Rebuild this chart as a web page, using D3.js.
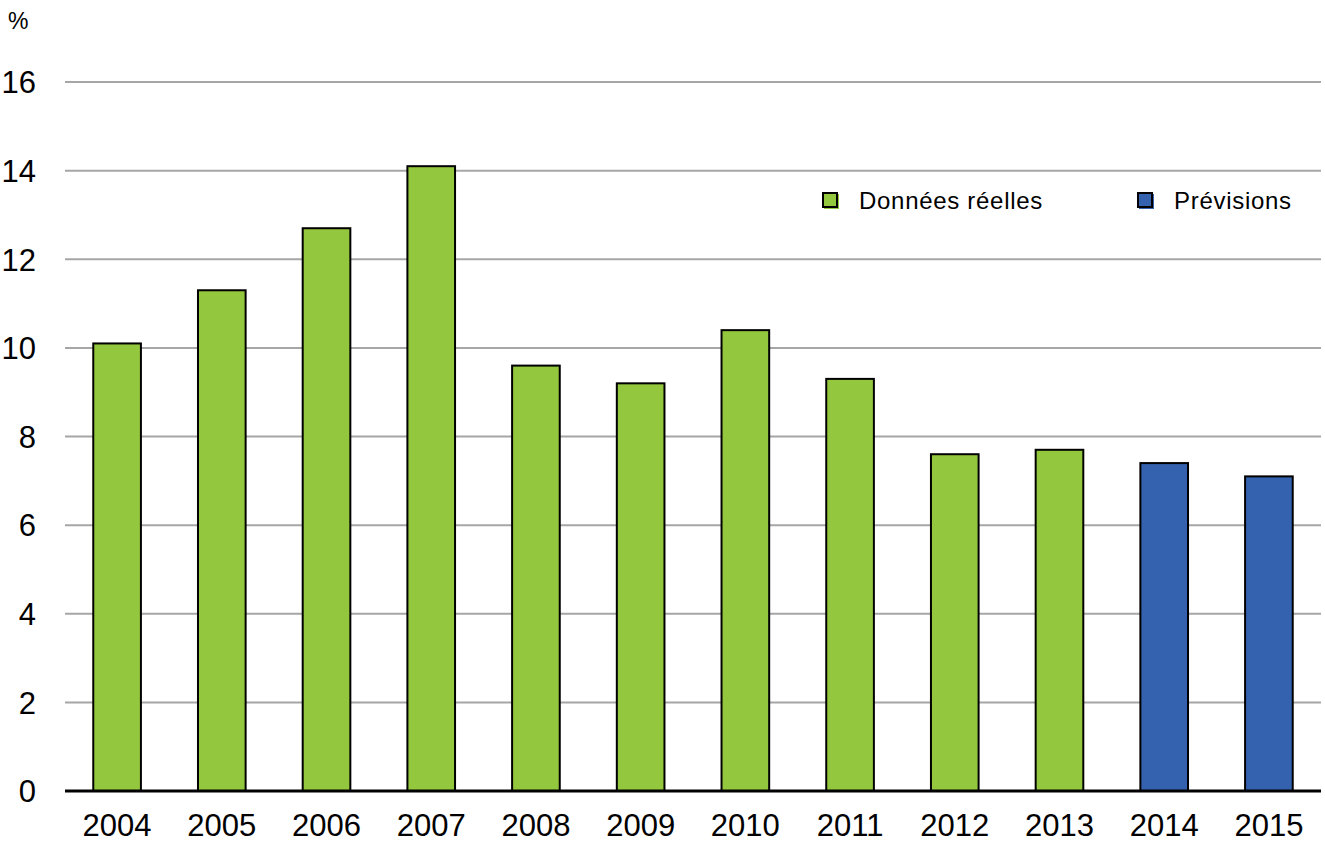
<!DOCTYPE html>
<html>
<head>
<meta charset="utf-8">
<script src="https://cdn.jsdelivr.net/npm/d3@7/dist/d3.min.js"></script>
<style>
  html, body { margin: 0; padding: 0; background: #fff; }
  svg { display: block; font-family: "Liberation Sans", Arial, sans-serif; }
</style>
</head>
<body>
<svg id="chart" width="1325" height="843"></svg>
<script>
// Annual values (%), actual data followed by forecasts
const years = ["2004", "2005", "2006", "2007", "2008", "2009", "2010", "2011", "2012", "2013", "2014", "2015"];
const values = [10.1, 11.3, 12.7, 14.1, 9.6, 9.2, 10.4, 9.3, 7.6, 7.7, 7.4, 7.1];
const kinds = ["reel", "reel", "reel", "reel", "reel", "reel", "reel", "reel", "reel", "reel", "prev", "prev"];
const yTicks = [0, 2, 4, 6, 8, 10, 12, 14, 16];
const legendItems = [
  { key: "reel", label: "Données réelles" },
  { key: "prev", label: "Prévisions" }
];

const colors = { reel: "#93C83E", prev: "#3462AE" };

const svg = d3.select("#chart");
const margin = { left: 65, right: 4, top: 82, bottom: 52 };
const W = 1325, H = 843;

const x = d3.scaleBand()
  .domain(years)
  .range([margin.left, W - margin.right])
  .paddingInner(0.545)
  .paddingOuter(0.27);

const y = d3.scaleLinear()
  .domain([0, 16])
  .range([H - margin.bottom, margin.top]);

// Horizontal gridlines
svg.append("g")
  .selectAll("line")
  .data(yTicks.filter(d => d > 0))
  .join("line")
  .attr("x1", margin.left)
  .attr("x2", W - margin.right)
  .attr("y1", d => y(d))
  .attr("y2", d => y(d))
  .attr("stroke", "#A6A6A6")
  .attr("stroke-width", 2);

// Y axis labels
const yAxis = d3.axisLeft(y).tickValues(yTicks).tickSize(0).tickPadding(0);
const gy = svg.append("g")
  .attr("transform", `translate(36,0)`)
  .call(yAxis);
gy.select(".domain").remove();
gy.selectAll("text")
  .attr("font-size", 31)
  .attr("fill", "#000")
  .attr("font-family", "'Liberation Sans', Arial, sans-serif")
  .attr("text-anchor", "end")
  .attr("dy", "0.35em");

// Unit label
svg.append("text")
  .attr("x", 8)
  .attr("y", 29)
  .attr("font-size", 23)
  .attr("fill", "#000")
  .text("%");

// Bars
svg.append("g")
  .selectAll("rect")
  .data(years.map((yr, i) => ({ yr, v: values[i], k: kinds[i] })))
  .join("rect")
  .attr("x", d => x(d.yr))
  .attr("width", x.bandwidth())
  .attr("y", d => y(d.v))
  .attr("height", d => y(0) - y(d.v))
  .attr("fill", d => colors[d.k])
  .attr("stroke", "#000")
  .attr("stroke-width", 2);

// X axis
const xAxis = d3.axisBottom(x).tickSize(0).tickPadding(0);
const gx = svg.append("g")
  .attr("transform", `translate(0,${y(0)})`)
  .call(xAxis);
gx.select(".domain").remove();
gx.selectAll("text")
  .attr("font-size", 31)
  .attr("fill", "#000")
  .attr("font-family", "'Liberation Sans', Arial, sans-serif")
  .attr("y", 45)
  .attr("dy", 0);

// Zero baseline
svg.append("line")
  .attr("x1", margin.left)
  .attr("x2", W - margin.right)
  .attr("y1", y(0))
  .attr("y2", y(0))
  .attr("stroke", "#000")
  .attr("stroke-width", 3);

// Legend
const legendPos = [823, 1138];
const lg = svg.append("g")
  .selectAll("g")
  .data(legendItems)
  .join("g")
  .attr("transform", (d, i) => `translate(${legendPos[i]},193)`);
lg.append("rect")
  .attr("x", 1).attr("y", 1)
  .attr("width", 15).attr("height", 15)
  .attr("fill", d => colors[d.key]);
lg.append("rect")
  .attr("width", 14).attr("height", 14)
  .attr("fill", d => colors[d.key])
  .attr("stroke", "#000")
  .attr("stroke-width", 2);
lg.append("text")
  .attr("x", 36)
  .attr("y", 16)
  .attr("font-size", 24)
  .attr("letter-spacing", 0.7)
  .attr("fill", "#000")
  .text(d => d.label);
</script>
</body>
</html>
